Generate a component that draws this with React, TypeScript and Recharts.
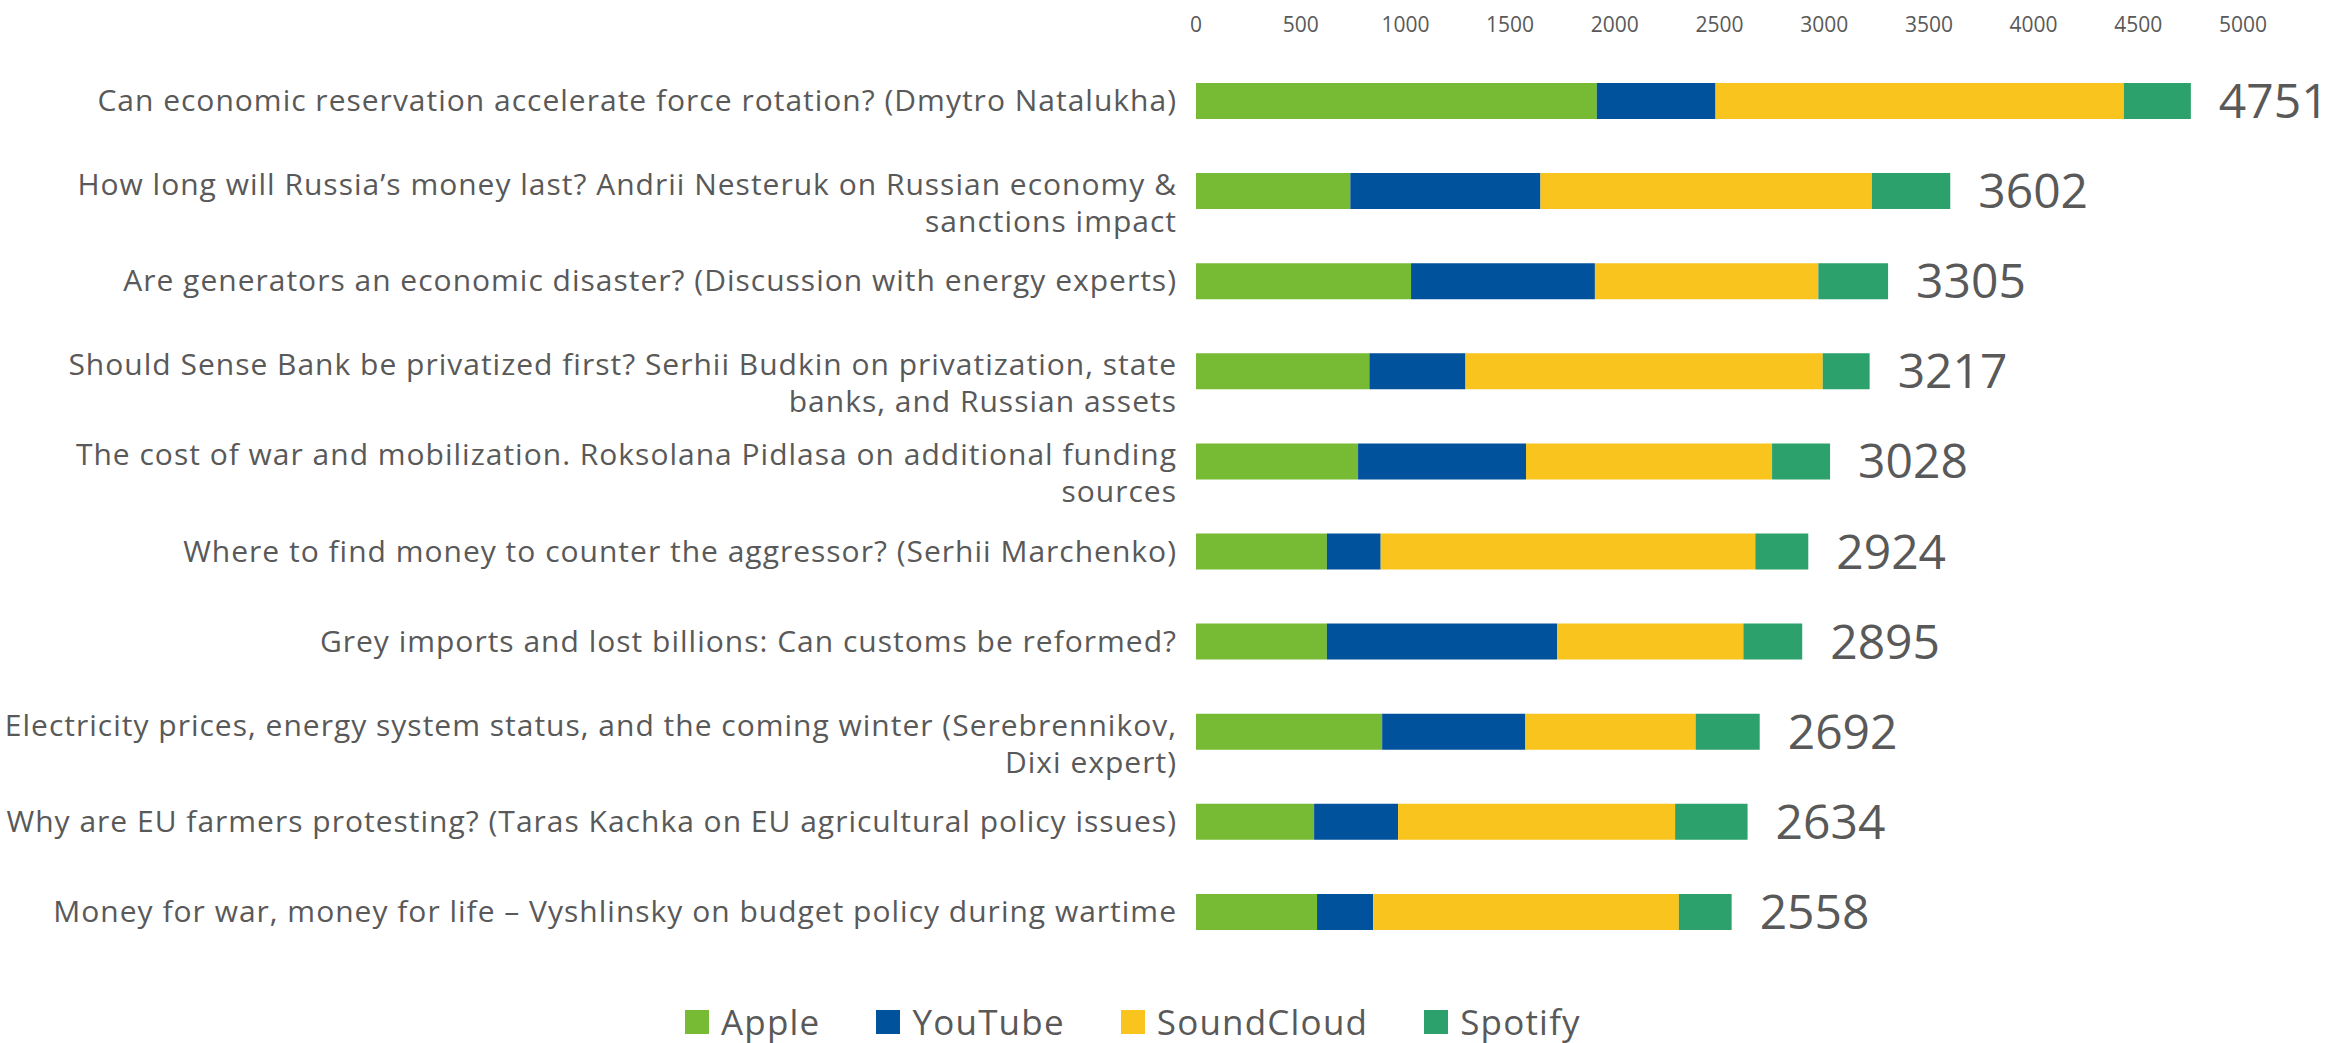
import { BarChart, Bar, XAxis, YAxis, Legend, LabelList } from "recharts";

const categories = [
  "Can economic reservation accelerate force rotation? (Dmytro Natalukha)",
  "How long will Russia’s money last? Andrii Nesteruk on Russian economy &\nsanctions impact",
  "Are generators an economic disaster? (Discussion with energy experts)",
  "Should Sense Bank be privatized first? Serhii Budkin on privatization, state\nbanks, and Russian assets",
  "The cost of war and mobilization. Roksolana Pidlasa on additional funding\nsources",
  "Where to find money to counter the aggressor? (Serhii Marchenko)",
  "Grey imports and lost billions: Can customs be reformed?",
  "Electricity prices, energy system status, and the coming winter (Serebrennikov,\nDixi expert)",
  "Why are EU farmers protesting? (Taras Kachka on EU agricultural policy issues)",
  "Money for war, money for life – Vyshlinsky on budget policy during wartime",
];

const apple = [1914, 737, 1027, 828, 774, 625, 625, 889, 564, 578];
const youtube = [567, 908, 878, 459, 802, 257, 1099, 684, 401, 268];
const soundcloud = [1950, 1583, 1067, 1706, 1175, 1789, 890, 813, 1323, 1460];
const spotify = [320, 374, 333, 224, 277, 253, 281, 306, 346, 252];

const xTicks = [0, 500, 1000, 1500, 2000, 2500, 3000, 3500, 4000, 4500, 5000];

const series = [
  { key: "apple", name: "Apple", color: "#77BA33" },
  { key: "youtube", name: "YouTube", color: "#01529C" },
  { key: "soundcloud", name: "SoundCloud", color: "#F9C41E" },
  { key: "spotify", name: "Spotify", color: "#2DA16B" },
];

const data = categories.map((name, i) => ({
  name,
  apple: apple[i],
  youtube: youtube[i],
  soundcloud: soundcloud[i],
  spotify: spotify[i],
  total: apple[i] + youtube[i] + soundcloud[i] + spotify[i],
}));

const FONT = "'Open Sans', 'Noto Sans', sans-serif";
const GREY = "#595959";

// wrapped labels: first line sits a bit above the bar centre, like Excel does
function CategoryTick(props: any) {
  const { x, y, payload } = props;
  const lines = String(payload.value).split("\n");
  const lh = 37;
  const startY = lines.length > 1 ? y - 6 : y;
  return (
    <text
      x={x}
      y={startY}
      textAnchor="end"
      fill={GREY}
      fontSize={30}
      letterSpacing={1}
      fontFamily={FONT}
    >
      {lines.map((l, i) => (
        <tspan key={i} x={x} y={startY + i * lh + 10}>
          {l}
        </tspan>
      ))}
    </text>
  );
}

function TotalLabel(props: any) {
  const { x, y, width, height, index } = props;
  return (
    <text
      x={x + width + 28}
      y={y + height / 2 + 17}
      fill={GREY}
      fontSize={48}
      fontFamily={FONT}
    >
      {data[index].total}
    </text>
  );
}

function renderLegend() {
  return (
    <div style={{ display: "flex", alignItems: "center", height: 34 }}>
      {series.map((s) => (
        <div
          key={s.key}
          style={{ display: "flex", alignItems: "center", marginRight: 56 }}
        >
          <span
            style={{
              width: 24,
              height: 24,
              background: s.color,
              display: "inline-block",
              marginRight: 12,
            }}
          />
          <span
            style={{
              fontSize: 35,
              lineHeight: "34px",
              letterSpacing: 1.2,
              color: GREY,
              fontFamily: FONT,
            }}
          >
            {s.name}
          </span>
        </div>
      ))}
    </div>
  );
}

export default function App() {
  return (
    <div style={{ background: "#fff" }}>
      <style>{"body{margin:0;background:#fff;overflow:hidden}"}</style>
      <BarChart
        width={2337}
        height={1043}
        data={data}
        layout="vertical"
        margin={{ top: 0, right: 94, bottom: 52, left: 0 }}
      >
        <XAxis
          type="number"
          orientation="top"
          domain={[0, 5000]}
          ticks={xTicks}
          axisLine={false}
          tickLine={false}
          tickSize={0}
          tickMargin={24}
          height={56}
          tick={{ fontSize: 21, fill: GREY, fontFamily: FONT }}
        />
        <YAxis
          type="category"
          dataKey="name"
          width={1196}
          axisLine={false}
          tickLine={false}
          tickSize={0}
          tickMargin={19}
          interval={0}
          tick={<CategoryTick />}
        />
        <Legend
          verticalAlign="bottom"
          content={renderLegend}
          wrapperStyle={{ left: 685, top: 1005, width: 1100, height: 34 }}
        />
        {series.map((s) => (
          <Bar
            key={s.key}
            dataKey={s.key}
            name={s.name}
            stackId="a"
            fill={s.color}
            barSize={36}
            isAnimationActive={false}
          >
            {s.key === "spotify" && (
              <LabelList dataKey="total" content={<TotalLabel />} />
            )}
          </Bar>
        ))}
      </BarChart>
    </div>
  );
}
